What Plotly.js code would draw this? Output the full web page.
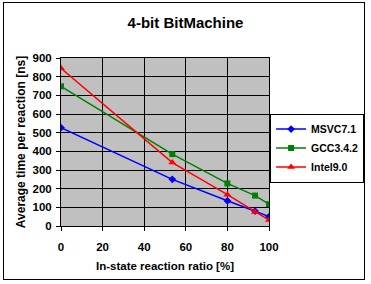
<!DOCTYPE html>
<html>
<head>
<meta charset="utf-8">
<script src="https://cdn.plot.ly/plotly-3.0.1.min.js"></script>
<style>
  body { margin: 0; background: #fff; }
  #chart { width: 371px; height: 284px; }
  #frame { position: absolute; left: 3px; top: 2px; width: 360px; height: 276px;
           border: 1.5px solid #000; pointer-events: none; }
</style>
</head>
<body>
<div id="chart"></div>
<div id="frame"></div>
<script>
// in-state reaction ratio [%]
const ratio = [0, 53.5, 80, 93.3, 100];
// average time per reaction [ns]
const msvc = [527, 250, 135, 80, 50];
const gcc = [748, 385, 228, 163, 117];
const intel = [845, 340, 168, 75, 32];

const font = { family: "Liberation Sans, Arial, sans-serif", color: "#000" };

function trace(name, y, color, symbol, size) {
  return {
    x: ratio,
    y,
    name,
    type: "scatter",
    mode: "lines+markers",
    line: { color, width: 1.5 },
    marker: { color, symbol, size },
  };
}

const data = [
  trace("MSVC7.1", msvc, "#0000ff", "diamond", 6),
  trace("GCC3.4.2", gcc, "#008000", "square", 6),
  trace("Intel9.0", intel, "#ff0000", "triangle-up", 7),
];

const axisCommon = {
  showgrid: true,
  gridcolor: "#000",
  gridwidth: 1,
  zeroline: false,
  showline: true,
  linecolor: "#000",
  linewidth: 1,
  mirror: true,
  ticks: "outside",
  ticklen: 4,
  tickcolor: "#000",
  tickfont: { ...font, size: 11.5, weight: "bold" },
};

const layout = {
  width: 371,
  height: 284,
  margin: { l: 61, r: 102, t: 58, b: 58 },
  paper_bgcolor: "#fff",
  plot_bgcolor: "#c0c0c0",
  showlegend: true,
  title: {
    text: "<b>4-bit BitMachine</b>",
    font: { ...font, size: 15 },
    x: 0.5,
    xanchor: "center",
    y: 0.919,
    yanchor: "middle",
  },
  xaxis: {
    ...axisCommon,
    range: [0, 100],
    dtick: 20,
    ticklabelstandoff: 6,
    title: { text: "<b>In-state reaction ratio [%]</b>", font: { ...font, size: 11.5 }, standoff: 10 },
  },
  yaxis: {
    ...axisCommon,
    range: [0, 900],
    dtick: 100,
    ticklabelstandoff: 2,
    title: { text: "<b>Average time per reaction [ns]</b>", font: { ...font, size: 12 }, standoff: 4 },
  },
  legend: {
    xref: "container",
    yref: "container",
    x: 0.728,
    y: 0.6,
    xanchor: "left",
    yanchor: "top",
    bgcolor: "#fff",
    bordercolor: "#000",
    borderwidth: 1,
    itemwidth: 30,
    tracegroupgap: 0,
    font: { ...font, size: 10.5, weight: "bold" },
  },
};

Plotly.newPlot("chart", data, layout, { displayModeBar: false, staticPlot: true });
</script>
</body>
</html>
